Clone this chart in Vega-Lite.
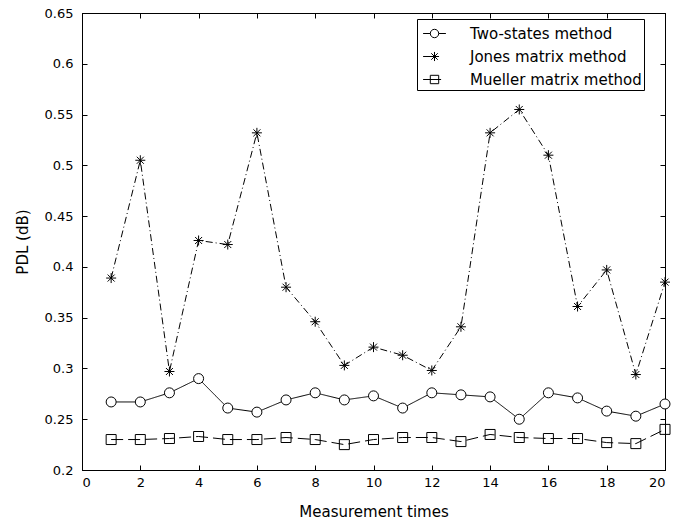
{
  "$schema": "https://vega.github.io/schema/vega-lite/v6.json",
  "width": 583,
  "height": 457,
  "autosize": {"type": "none"},
  "padding": {"left": 82, "top": 13, "right": 23, "bottom": 53},
  "background": "white",
  "config": {
    "font": "DejaVu Sans",
    "view": {"stroke": "black", "strokeWidth": 1},
    "axis": {
      "grid": false,
      "domainColor": "black",
      "tickColor": "black",
      "labelColor": "black",
      "titleColor": "black",
      "labelFont": "DejaVu Sans",
      "titleFont": "DejaVu Sans",
      "labelFontSize": 13,
      "titleFontSize": 15,
      "titleFontWeight": "normal",
      "tickSize": -5
    }
  },
  "data": {
    "values": [
      {"t": 1, "method": "Two-states method", "pdl": 0.267},
      {"t": 2, "method": "Two-states method", "pdl": 0.267},
      {"t": 3, "method": "Two-states method", "pdl": 0.276},
      {"t": 4, "method": "Two-states method", "pdl": 0.290},
      {"t": 5, "method": "Two-states method", "pdl": 0.261},
      {"t": 6, "method": "Two-states method", "pdl": 0.257},
      {"t": 7, "method": "Two-states method", "pdl": 0.269},
      {"t": 8, "method": "Two-states method", "pdl": 0.276},
      {"t": 9, "method": "Two-states method", "pdl": 0.269},
      {"t": 10, "method": "Two-states method", "pdl": 0.273},
      {"t": 11, "method": "Two-states method", "pdl": 0.261},
      {"t": 12, "method": "Two-states method", "pdl": 0.276},
      {"t": 13, "method": "Two-states method", "pdl": 0.274},
      {"t": 14, "method": "Two-states method", "pdl": 0.272},
      {"t": 15, "method": "Two-states method", "pdl": 0.250},
      {"t": 16, "method": "Two-states method", "pdl": 0.276},
      {"t": 17, "method": "Two-states method", "pdl": 0.271},
      {"t": 18, "method": "Two-states method", "pdl": 0.258},
      {"t": 19, "method": "Two-states method", "pdl": 0.253},
      {"t": 20, "method": "Two-states method", "pdl": 0.265},
      {"t": 1, "method": "Jones matrix method", "pdl": 0.389},
      {"t": 2, "method": "Jones matrix method", "pdl": 0.505},
      {"t": 3, "method": "Jones matrix method", "pdl": 0.297},
      {"t": 4, "method": "Jones matrix method", "pdl": 0.426},
      {"t": 5, "method": "Jones matrix method", "pdl": 0.422},
      {"t": 6, "method": "Jones matrix method", "pdl": 0.532},
      {"t": 7, "method": "Jones matrix method", "pdl": 0.380},
      {"t": 8, "method": "Jones matrix method", "pdl": 0.346},
      {"t": 9, "method": "Jones matrix method", "pdl": 0.303},
      {"t": 10, "method": "Jones matrix method", "pdl": 0.321},
      {"t": 11, "method": "Jones matrix method", "pdl": 0.313},
      {"t": 12, "method": "Jones matrix method", "pdl": 0.298},
      {"t": 13, "method": "Jones matrix method", "pdl": 0.341},
      {"t": 14, "method": "Jones matrix method", "pdl": 0.532},
      {"t": 15, "method": "Jones matrix method", "pdl": 0.555},
      {"t": 16, "method": "Jones matrix method", "pdl": 0.510},
      {"t": 17, "method": "Jones matrix method", "pdl": 0.361},
      {"t": 18, "method": "Jones matrix method", "pdl": 0.397},
      {"t": 19, "method": "Jones matrix method", "pdl": 0.294},
      {"t": 20, "method": "Jones matrix method", "pdl": 0.385},
      {"t": 1, "method": "Mueller matrix method", "pdl": 0.230},
      {"t": 2, "method": "Mueller matrix method", "pdl": 0.230},
      {"t": 3, "method": "Mueller matrix method", "pdl": 0.231},
      {"t": 4, "method": "Mueller matrix method", "pdl": 0.233},
      {"t": 5, "method": "Mueller matrix method", "pdl": 0.230},
      {"t": 6, "method": "Mueller matrix method", "pdl": 0.230},
      {"t": 7, "method": "Mueller matrix method", "pdl": 0.232},
      {"t": 8, "method": "Mueller matrix method", "pdl": 0.230},
      {"t": 9, "method": "Mueller matrix method", "pdl": 0.225},
      {"t": 10, "method": "Mueller matrix method", "pdl": 0.230},
      {"t": 11, "method": "Mueller matrix method", "pdl": 0.232},
      {"t": 12, "method": "Mueller matrix method", "pdl": 0.232},
      {"t": 13, "method": "Mueller matrix method", "pdl": 0.228},
      {"t": 14, "method": "Mueller matrix method", "pdl": 0.235},
      {"t": 15, "method": "Mueller matrix method", "pdl": 0.232},
      {"t": 16, "method": "Mueller matrix method", "pdl": 0.231},
      {"t": 17, "method": "Mueller matrix method", "pdl": 0.231},
      {"t": 18, "method": "Mueller matrix method", "pdl": 0.227},
      {"t": 19, "method": "Mueller matrix method", "pdl": 0.226},
      {"t": 20, "method": "Mueller matrix method", "pdl": 0.240}
    ]
  },
  "layer": [
    {
      "mark": {"type": "line", "stroke": "black", "strokeWidth": 1},
      "encoding": {
        "x": {
          "field": "t", "type": "quantitative",
          "scale": {"domain": [0, 20], "nice": false, "zero": false},
          "axis": {"orient": "bottom", "values": [0, 2, 4, 6, 8, 10, 12, 14, 16, 18, 20], "format": "d", "title": "Measurement times", "labelPadding": 11, "titlePadding": 15}
        },
        "y": {
          "field": "pdl", "type": "quantitative",
          "scale": {"domain": [0.2, 0.65], "nice": false, "zero": false},
          "axis": {"orient": "left", "values": [0.2, 0.25, 0.3, 0.35, 0.4, 0.45, 0.5, 0.55, 0.6, 0.65], "format": ".2~f", "title": "PDL (dB)", "labelPadding": 14, "titlePadding": 14}
        },
        "detail": {"field": "method"},
        "strokeDash": {
          "field": "method", "type": "nominal",
          "scale": {"domain": ["Two-states method", "Jones matrix method", "Mueller matrix method"], "range": [[1, 0], [7, 3, 1, 3], [12, 5]]},
          "legend": null
        }
      }
    },
    {
      "mark": {"type": "point", "filled": false, "stroke": "black", "strokeWidth": 1, "opacity": 1},
      "encoding": {
        "x": {
          "field": "t", "type": "quantitative",
          "scale": {"domain": [0, 20], "nice": false, "zero": false},
          "axis": {"orient": "top", "values": [0, 2, 4, 6, 8, 10, 12, 14, 16, 18, 20], "labels": false, "title": null}
        },
        "y": {
          "field": "pdl", "type": "quantitative",
          "scale": {"domain": [0.2, 0.65], "nice": false, "zero": false},
          "axis": {"orient": "right", "values": [0.2, 0.25, 0.3, 0.35, 0.4, 0.45, 0.5, 0.55, 0.6, 0.65], "labels": false, "title": null}
        },
        "shape": {
          "field": "method", "type": "nominal",
          "scale": {"domain": ["Two-states method", "Jones matrix method", "Mueller matrix method"], "range": ["M-1,0A1,1 0 1,1 1,0A1,1 0 1,1 -1,0Z", "M-1,0L1,0M0,-1L0,1M-0.7,-0.7L0.7,0.7M-0.7,0.7L0.7,-0.7", "M-1,-1L1,-1L1,1L-1,1Z"]},
          "legend": null
        },
        "fill": {
          "field": "method", "type": "nominal",
          "scale": {"domain": ["Two-states method", "Jones matrix method", "Mueller matrix method"], "range": ["white", "transparent", "transparent"]},
          "legend": null
        },
        "size": {"value": 100}
      }
    },
    {
      "transform": [{"filter": "datum.t < 0"}],
      "mark": {"type": "point", "filled": false, "stroke": "black", "strokeWidth": 1, "opacity": 1},
      "encoding": {
        "x": {"field": "t", "type": "quantitative", "scale": {"domain": [0, 20], "nice": false, "zero": false}, "axis": null},
        "y": {"field": "pdl", "type": "quantitative", "scale": {"domain": [0.2, 0.65], "nice": false, "zero": false}, "axis": null},
        "shape": {
          "field": "method", "type": "nominal",
          "scale": {"domain": ["Two-states method", "Jones matrix method", "Mueller matrix method"], "range": ["M-0.95,0L-0.35,0M0.35,0L0.95,0M-0.35,0A0.35,0.35 0 1,1 0.35,0A0.35,0.35 0 1,1 -0.35,0Z", "M-0.95,0L0,0M-0.38,0L0.38,0M0,-0.38L0,0.38M-0.27,-0.27L0.27,0.27M-0.27,0.27L0.27,-0.27", "M-0.95,0L0.55,0M-0.35,-0.35L0.35,-0.35L0.35,0.35L-0.35,0.35Z"]},
          "legend": {
            "orient": "none",
            "legendX": 335,
            "legendY": 6,
            "title": null,
            "strokeColor": "black",
            "fillColor": "white",
            "padding": 2,
            "symbolOffset": 3,
            "symbolSize": 576,
            "symbolStrokeWidth": 1,
            "symbolStrokeColor": "black",
            "symbolFillColor": "transparent",
            "symbolOpacity": 1,
            "labelFont": "DejaVu Sans",
            "labelFontSize": 15,
            "labelColor": "black",
            "labelOffset": 23,
            "rowPadding": 2,
            "labelLimit": 300
          }
        }
      }
    }
  ],
  "resolve": {
    "scale": {"shape": "independent"},
    "axis": {"x": "independent", "y": "independent"}
  }
}
